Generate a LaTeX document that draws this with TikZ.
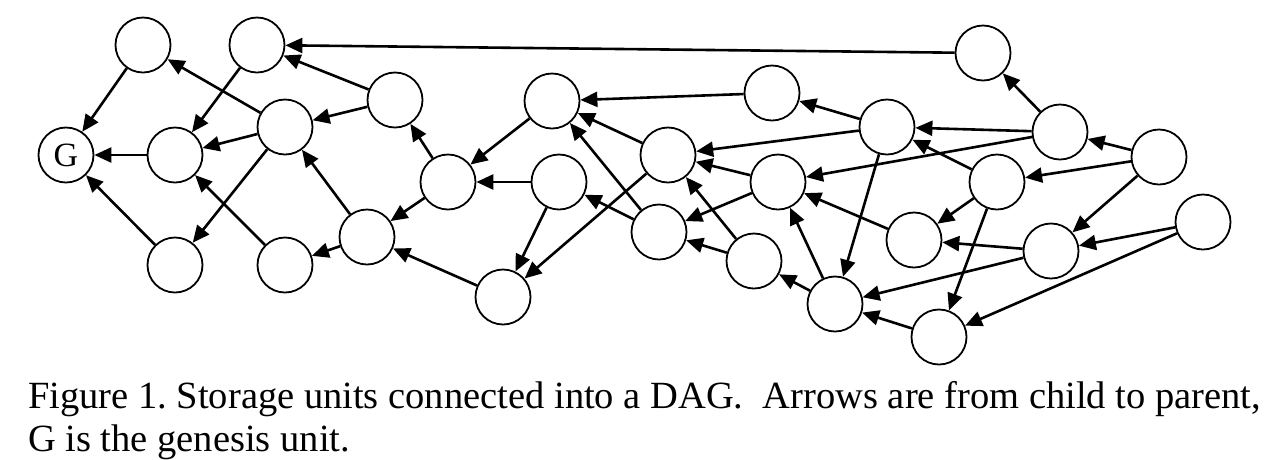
\documentclass[tikz,border=0pt]{standalone}
\usepackage{fontspec}
\usepackage{tikz}
\usetikzlibrary{arrows.meta}
\setmainfont{Liberation Serif}
\frenchspacing

\tikzset{
  unit/.style={draw, circle, line width=1.8pt, minimum size=55pt, inner sep=0pt, font=\fontsize{34}{40}\selectfont},
  arr/.style={line width=2.6pt, -{Triangle[length=17pt,width=15pt]}}
}

\begin{document}
\begin{tikzpicture}[x=1pt, y=-1pt]
\useasboundingbox (0,0) rectangle (1265,459);

% storage units
\node[unit] (G) at (66,155) {G};
\node[unit] (u1) at (143,45) {};
\node[unit] (u2) at (257,45) {};
\node[unit] (u3) at (175,155) {};
\node[unit] (u4) at (175,265) {};
\node[unit] (u5) at (285,127) {};
\node[unit] (u6) at (285,265) {};
\node[unit] (u7) at (395,100) {};
\node[unit] (u8) at (367,237) {};
\node[unit] (u9) at (448,182) {};
\node[unit] (u10) at (503,297) {};
\node[unit] (u11) at (552,101) {};
\node[unit] (u12) at (559,182) {};
\node[unit] (u13) at (659,232) {};
\node[unit] (u14) at (668,155) {};
\node[unit] (u15) at (754,261) {};
\node[unit] (u16) at (772,93) {};
\node[unit] (u17) at (778,182) {};
\node[unit] (u18) at (835,304) {};
\node[unit] (u19) at (887,127) {};
\node[unit] (u20) at (914,240) {};
\node[unit] (u21) at (939,337) {};
\node[unit] (u22) at (983,53) {};
\node[unit] (u23) at (997,182) {};
\node[unit] (u24) at (1051,251) {};
\node[unit] (u25) at (1060,132) {};
\node[unit] (u26) at (1159,157) {};
\node[unit] (u27) at (1203,222) {};

% child -> parent, left part
\draw[arr] (u1) -- (G);
\draw[arr] (u3) -- (G);
\draw[arr] (u4) -- (G);
\draw[arr] (u2) -- (u3);
\draw[arr] (u5) -- (u3);
\draw[arr] (u5) -- (u1);
\draw[arr] (u5) -- (u4);
\draw[arr] (u6) -- (u3);
\draw[arr] (u7) -- (u2);
\draw[arr] (u7) -- (u5);
\draw[arr] (u8) -- (u5);
\draw[arr] (u8) -- (u6);
\draw[arr] (u9) -- (u7);
\draw[arr] (u9) -- (u8);
\draw[arr] (u10) -- (u8);

% middle part
\draw[arr] (u11) -- (u9);
\draw[arr] (u12) -- (u9);
\draw[arr] (u12) -- (u10);
\draw[arr] (u14) -- (u10);
\draw[arr] (u16) -- (u11);
\draw[arr] (u14) -- (u11);
\draw[arr] (u13) -- (u11);
\draw[arr] (u13) -- (u12);
\draw[arr] (u17) -- (u14);
\draw[arr] (u17) -- (u13);
\draw[arr] (u15) -- (u14);
\draw[arr] (u15) -- (u13);
\draw[arr] (u18) -- (u15);
\draw[arr] (u18) -- (u17);

% right part
\draw[arr] (u22) -- (u2);
\draw[arr] (u19) -- (u14);
\draw[arr] (u19) -- (u18);
\draw[arr] (u19) -- (u16);
\draw[arr] (u25) -- (u19);
\draw[arr] (u23) -- (u19);
\draw[arr] (u25) -- (u17);
\draw[arr] (u20) -- (u17);
\draw[arr] (u24) -- (u18);
\draw[arr] (u21) -- (u18);
\draw[arr] (u23) -- (u20);
\draw[arr] (u23) -- (u21);
\draw[arr] (u24) -- (u20);
\draw[arr] (u25) -- (u22);
\draw[arr] (u26) -- (u25);
\draw[arr] (u26) -- (u23);
\draw[arr] (u26) -- (u24);
\draw[arr] (u27) -- (u24);
\draw[arr] (u27) -- (u21);

% caption
\node[anchor=base west, inner sep=0pt, font=\fontsize{38.5}{43}\selectfont] (cap1) at (28,408) {Figure 1. Storage units connected into a DAG.\ \ Arrows are from child to parent,};
\node[anchor=base west, inner sep=0pt, font=\fontsize{38.5}{43}\selectfont] (cap2) at (28,451) {G is the genesis unit.};
\end{tikzpicture}
\end{document}
